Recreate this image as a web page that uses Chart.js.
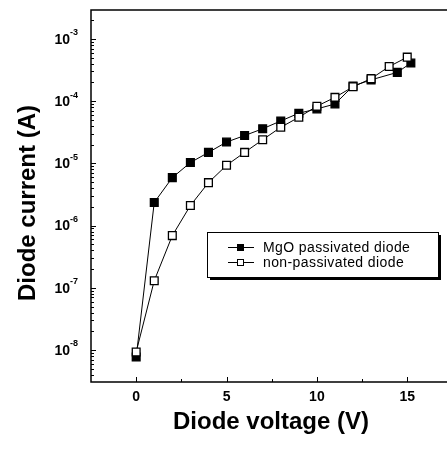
<!DOCTYPE html>
<html>
<head>
<meta charset="utf-8">
<script src="https://cdn.jsdelivr.net/npm/chart.js@4/dist/chart.umd.min.js"></script>
<style>
  html, body { margin: 0; padding: 0; background: #fff; }
  #wrap { width: 447px; height: 450px; }
</style>
</head>
<body>
<div id="wrap"><canvas id="chart-iv" width="447" height="450"></canvas></div>
<script>
// Data
var mgoVoltage  = [0, 1, 2, 3, 4, 5, 6, 7, 8, 9, 10, 11, 12, 13, 14.45, 15.2];
var mgoCurrent  = [7.7e-9, 2.35e-6, 5.9e-6, 1.03e-5, 1.5e-5, 2.2e-5, 2.8e-5, 3.6e-5,
                   4.8e-5, 6.4e-5, 7.5e-5, 9.0e-5, 1.75e-4, 2.2e-4, 2.9e-4, 4.1e-4];
var openVoltage = [0, 1, 2, 3, 4, 5, 6, 7, 8, 9, 10, 11, 12, 13, 14, 15];
var openCurrent = [9.3e-9, 1.3e-7, 6.9e-7, 2.1e-6, 4.9e-6, 9.3e-6, 1.5e-5, 2.4e-5,
                   3.8e-5, 5.5e-5, 8.3e-5, 1.15e-4, 1.7e-4, 2.3e-4, 3.6e-4, 5.1e-4];
var xTicks = [0, 5, 10, 15];
var xMinorTicks = [2.5, 7.5, 12.5];
var yTickExps = [-8, -7, -6, -5, -4, -3];
var seriesLabels = ['MgO passivated diode', 'non-passivated diode'];

function pairs(xs, ys) {
  return xs.map(function(x, i) { return { x: x, y: ys[i] }; });
}

var FONT = '"Liberation Sans", Arial, sans-serif';

// Axes, ticks, titles and legend drawn by hand to mimic the Origin look
var framePlugin = {
  id: 'frame',
  afterDatasetsDraw: function(chart) {
    var ctx = chart.ctx, a = chart.chartArea;
    var xs = chart.scales.x, ys = chart.scales.y;
    ctx.save();
    ctx.strokeStyle = '#000';
    ctx.fillStyle = '#000';

    // frame: left, bottom, top
    ctx.lineWidth = 1.5;
    ctx.beginPath();
    ctx.moveTo(a.right, a.top);
    ctx.lineTo(a.left, a.top);
    ctx.lineTo(a.left, a.bottom);
    ctx.lineTo(a.right, a.bottom);
    ctx.stroke();

    // x ticks (inward)
    ctx.lineWidth = 1;
    ctx.beginPath();
    xTicks.forEach(function(v) {
      var px = Math.round(xs.getPixelForValue(v)) + 0.5;
      ctx.moveTo(px, a.bottom); ctx.lineTo(px, a.bottom - 5);
    });
    xMinorTicks.forEach(function(v) {
      var px = Math.round(xs.getPixelForValue(v)) + 0.5;
      ctx.moveTo(px, a.bottom); ctx.lineTo(px, a.bottom - 3);
    });
    // y ticks (inward), major + minor
    yTickExps.concat([-9]).forEach(function(e) {
      for (var m = 1; m <= 9; m++) {
        var v = m * Math.pow(10, e);
        if (v < ys.min || v > ys.max) continue;
        var py = Math.round(ys.getPixelForValue(v)) + 0.5;
        ctx.moveTo(a.left, py); ctx.lineTo(a.left + (m === 1 ? 5 : 3), py);
      }
    });
    ctx.stroke();

    // x tick labels
    ctx.font = 'bold 14px ' + FONT;
    ctx.textAlign = 'center';
    ctx.textBaseline = 'middle';
    xTicks.forEach(function(v) {
      ctx.fillText(String(v), xs.getPixelForValue(v), 397);
    });

    // y tick labels: 10 with superscript exponent
    yTickExps.forEach(function(e) {
      var py = ys.getPixelForValue(Math.pow(10, e));
      ctx.font = 'bold 14px ' + FONT;
      ctx.textAlign = 'right';
      ctx.textBaseline = 'middle';
      ctx.fillText('10', 70, py + 1);
      ctx.font = 'bold 9px ' + FONT;
      ctx.textAlign = 'left';
      ctx.fillText(String(e), 70, py - 6);
    });

    // axis titles
    ctx.font = 'bold 24px ' + FONT;
    ctx.textAlign = 'center';
    ctx.textBaseline = 'middle';
    ctx.fillText('Diode voltage (V)', 271, 422);
    ctx.save();
    ctx.translate(28, 203);
    ctx.rotate(-Math.PI / 2);
    ctx.fillText('Diode current (A)', 0, 0);
    ctx.restore();

    // legend box with drop shadow
    var lx = 207, ly = 232, lw = 231, lh = 45;
    ctx.fillRect(lx + 3, ly + 3, lw, lh);
    ctx.fillStyle = '#fff';
    ctx.fillRect(lx, ly, lw, lh);
    ctx.lineWidth = 1;
    ctx.strokeRect(lx + 0.5, ly + 0.5, lw, lh);
    ctx.font = '14px ' + FONT;
    ctx.letterSpacing = '0.4px';
    ctx.textAlign = 'left';
    ctx.textBaseline = 'middle';
    chart.data.datasets.forEach(function(ds, i) {
      var ry = 247 + i * 15;
      ctx.strokeStyle = '#000';
      ctx.lineWidth = 1;
      ctx.beginPath();
      ctx.moveTo(228, ry + 0.5); ctx.lineTo(254, ry + 0.5);
      ctx.stroke();
      ctx.fillStyle = ds.pointBackgroundColor;
      ctx.fillRect(237, ry - 3, 7, 7);
      ctx.strokeRect(237.5, ry - 2.5, 6, 6);
      ctx.fillStyle = '#000';
      ctx.fillText(seriesLabels[i], 263, ry + 1);
    });
    ctx.restore();
  }
};

var ivChart = new Chart(document.getElementById('chart-iv').getContext('2d'), {
  type: 'line',
  data: {
    datasets: [{
      label: seriesLabels[0],
      data: pairs(mgoVoltage, mgoCurrent),
      borderColor: '#000',
      borderWidth: 1,
      pointStyle: 'rect',
      pointRadius: 5.5,
      pointBorderWidth: 1.3,
      pointBorderColor: '#000',
      pointBackgroundColor: '#000',
      order: 1
    }, {
      label: seriesLabels[1],
      data: pairs(openVoltage, openCurrent),
      borderColor: '#000',
      borderWidth: 1,
      pointStyle: 'rect',
      pointRadius: 5.5,
      pointBorderWidth: 1.3,
      pointBorderColor: '#000',
      pointBackgroundColor: '#fff',
      order: 0
    }]
  },
  options: {
    responsive: false,
    maintainAspectRatio: false,
    animation: false,
    layout: { autoPadding: false, padding: { top: 10, left: 0, right: 0, bottom: 0 } },
    plugins: { legend: { display: false }, tooltip: { enabled: false } },
    scales: {
      x: {
        type: 'linear',
        min: -2.5,
        max: 17.2,
        grid: { display: false },
        border: { display: false },
        ticks: { display: false },
        afterFit: function(s) { s.height = 68; }
      },
      y: {
        type: 'logarithmic',
        min: 2.92e-3 / Math.pow(10, 6 - 0.02),
        max: 2.92e-3,
        grid: { display: false },
        border: { display: false },
        ticks: { display: false },
        afterFit: function(s) { s.width = 91; }
      }
    }
  },
  plugins: [framePlugin]
});
</script>
</body>
</html>
